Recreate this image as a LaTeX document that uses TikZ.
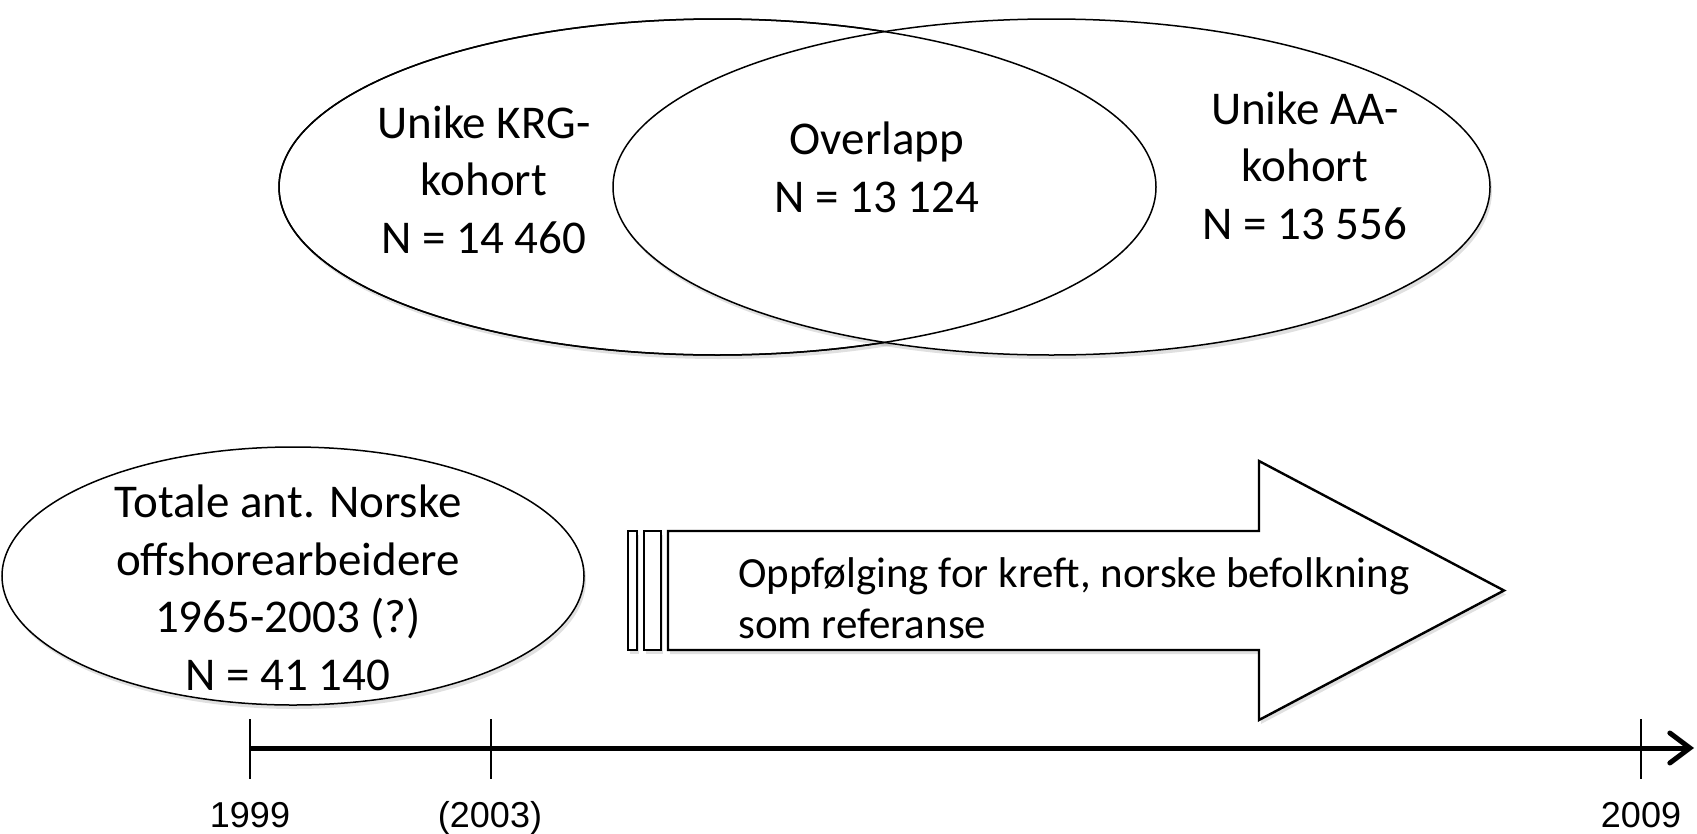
\documentclass[tikz,border=0pt]{standalone}
\usepackage{fontspec}
\newfontfamily\bodyfont{Carlito}
\newfontfamily\axisfont{Liberation Sans}
\usetikzlibrary{arrows.meta,shadows,shapes.geometric}
\tikzset{
  softshadow/.style={drop shadow={shadow xshift=2pt, shadow yshift=-4pt, opacity=0.12, fill=black}},
  setring/.style={draw, ellipse, line width=1.5pt, inner sep=0pt, fill=white},
  bigtext/.style={font=\bodyfont\fontsize{47}{57.5}\selectfont, align=center, anchor=base, inner sep=0pt},
  arrowtext/.style={font=\bodyfont\fontsize{43}{51}\selectfont, align=left, anchor=base west, inner sep=0pt},
  yearlabel/.style={font=\axisfont\fontsize{36}{40}\selectfont, anchor=base, inner sep=0pt},
  tick/.style={line width=1.4pt},
  outline/.style={draw, line width=2.4pt, fill=white}
}
\begin{document}
\begin{tikzpicture}[x=1pt,y=-1pt]
\useasboundingbox (0,0) rectangle (1697,833);

% two overlapping cohorts
\node[setring, softshadow, minimum width=877pt, minimum height=336pt] (krg) at (717.5,187) {};
\node[setring, softshadow, minimum width=877pt, minimum height=336pt] (aa) at (1051.5,187) {};
\draw[line width=1.5pt] (717.5,187) ellipse [x radius=438.5, y radius=168];

% text blocks, each placed by the baseline of its last line
\node[bigtext] (krgtext) at (484,253) {Unike KRG-\\kohort\\N = 14 460};
\node[bigtext] (overlap) at (877,212) {Overlapp\\N = 13 124};
\node[bigtext] (aatext) at (1305,239) {Unike AA-\\kohort\\N = 13 556};

% total population
\node[setring, softshadow, minimum width=582pt, minimum height=258pt] (total) at (293,576) {};
\node[bigtext] (totaltext) at (288,690) {Totale ant. Norske\\offshorearbeidere\\1965-2003 (?)\\N = 41 140};

% follow-up arrow with break bars
\draw[outline, softshadow] (628,531) rectangle (637,650);
\draw[outline, softshadow] (644,531) rectangle (661,650);
\draw[outline, softshadow] (668,531) -- (1259,531) -- (1259,461) -- (1504,590.5)
  -- (1259,720) -- (1259,650) -- (668,650) -- cycle;
\node[arrowtext] (follow) at (738,638) {Oppfølging for kreft, norske befolkning\\som referanse};

% time axis
\coordinate (t0) at (250,748);
\coordinate (t1) at (1694,748);
\draw[line width=5pt, -{Straight Barb[length=20pt, width=30pt, line cap=round]}] (t0) -- (t1);
\coordinate (k1) at (250,748);
\coordinate (k2) at (491,748);
\coordinate (k3) at (1641,748);
\draw[tick] ([yshift=29pt]k1) -- ([yshift=-31pt]k1);
\draw[tick] ([yshift=29pt]k2) -- ([yshift=-31pt]k2);
\draw[tick] ([yshift=29pt]k3) -- ([yshift=-31pt]k3);
\node[yearlabel] (y1999) at (250,827) {1999};
\node[yearlabel] (y2003) at (490,827) {(2003)};
\node[yearlabel] (y2009) at (1641,827) {2009};
\end{tikzpicture}
\end{document}
